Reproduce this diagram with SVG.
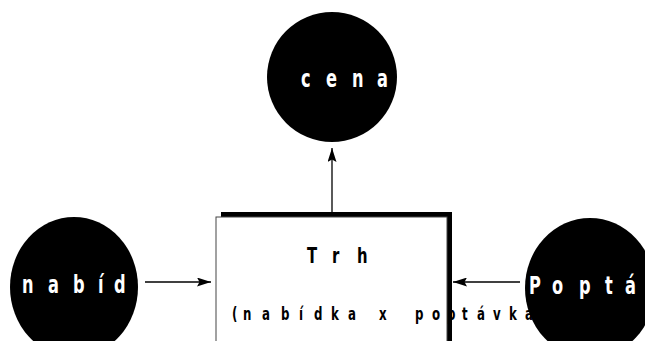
<svg xmlns="http://www.w3.org/2000/svg" width="645" height="341" viewBox="0 0 645 341">
<defs>
<style>
.node{fill:#000}
.lbl{font-family:"DejaVu Sans Condensed","DejaVu Sans",sans-serif;font-weight:bold;font-size:24px}
.w{fill:#fff}
.b{fill:#000}
.md{font-size:22px}
.sm{font-size:17.5px}
.edge{stroke:#000;stroke-width:1.3;fill:none;marker-end:url(#ah)}
</style>
<marker id="ah" viewBox="0 0 14 9" refX="14" refY="4.5" markerWidth="14" markerHeight="9" markerUnits="userSpaceOnUse" orient="auto">
<path d="M0,0 L14,4.5 L0,9 L2.5,4.5 z" fill="#000"/>
</marker>
</defs>
<rect width="645" height="341" fill="#fff"/>
<g id="connectors">
<line class="edge" x1="332" y1="212" x2="332" y2="148"/>
<line class="edge" x1="145" y1="282" x2="211" y2="282"/>
<line class="edge" x1="520" y1="282" x2="453" y2="282"/>
</g>
<g id="node-cena">
<circle class="node" cx="332" cy="77" r="65"/>
<text class="lbl w" transform="scale(0.75 1)" x="401.3 434.7 469.3 502.7" y="87">cena</text>
</g>
<g id="node-nabid">
<ellipse class="node" cx="74" cy="287" rx="64" ry="70"/>
<text class="lbl w" transform="scale(0.75 1)" x="29.3 64 97.3 130.7 152" y="293">nabíd</text>
</g>
<g id="node-trh">
<rect x="221" y="212" width="231" height="200" fill="#000"/>
<rect x="216" y="217" width="231" height="200" fill="#fff" stroke="#444" stroke-width="1"/>
<text class="lbl b md" transform="scale(0.75 1)" x="409.3 442.7 476" y="263">Trh</text>
<text class="lbl b sm" transform="scale(0.75 1)" x="309.3 324 349.3 374.7 398.7 418.7 441.3 464 485.3 505.3 529.3 553.3 576 596 616 636 657.3 678.7 700" y="320">(nabídka x poptávka</text>
</g>
<g id="node-poptavka">
<ellipse class="node" cx="590" cy="288" rx="65" ry="70"/>
<text class="lbl w" transform="scale(0.75 1)" x="705.3 736 772 806.7 833.3" y="294">Poptá</text>
</g>
</svg>
